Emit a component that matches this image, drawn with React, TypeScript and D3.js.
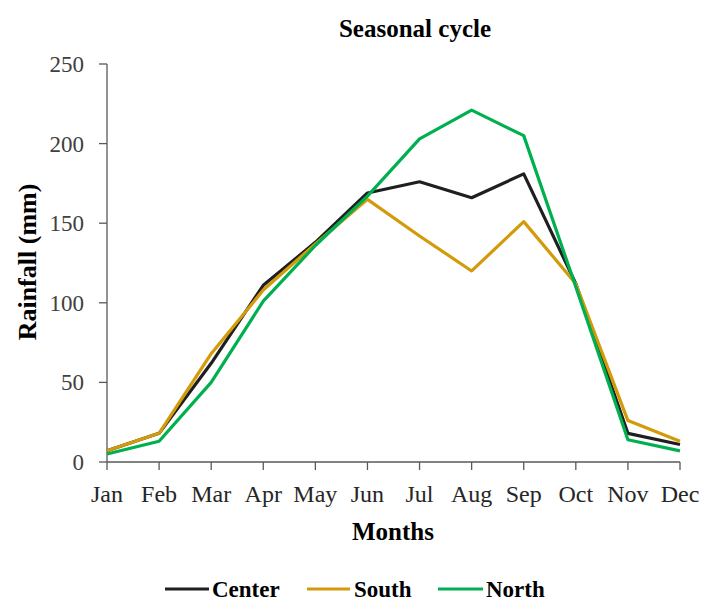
import * as d3 from "d3";

const months = ["Jan", "Feb", "Mar", "Apr", "May", "Jun", "Jul", "Aug", "Sep", "Oct", "Nov", "Dec"];
const center = [7, 18, 62, 111, 138, 169, 176, 166, 181, 112, 18, 11];
const south = [7, 18, 68, 108, 137, 165, 142, 120, 151, 112, 26, 13];
const north = [5, 13, 50, 101, 136, 167, 203, 221, 205, 110, 14, 7];
const yTicks = [0, 50, 100, 150, 200, 250];

const series = [
  { name: "Center", values: center, color: "#1f1f1f" },
  { name: "South", values: south, color: "#D39B0A" },
  { name: "North", values: north, color: "#00B050" },
];

export default function App() {
  const W = 702;
  const H = 601;
  const left = 107;
  const right = 680;
  const top = 64;
  const bottom = 462;
  const font = "'Liberation Serif', 'Times New Roman', serif";

  const x = d3.scalePoint<string>().domain(months).range([left, right]);
  const y = d3.scaleLinear().domain([0, 250]).range([bottom, top]);

  const line = d3
    .line<number>()
    .x((_, i) => x(months[i]) as number)
    .y((v) => y(v));

  const legendItems = [
    { x1: 165, x2: 209, tx: 212 },
    { x1: 307, x2: 350, tx: 354 },
    { x1: 438, x2: 483, tx: 486 },
  ];

  return (
    <svg width={W} height={H} style={{ position: "absolute", left: 0, top: 0 }} fontFamily={font}>
      <rect width={W} height={H} fill="#fff" />
      <text x={415} y={37} textAnchor="middle" fontWeight="bold" fontSize={25} fill="#000">
        Seasonal cycle
      </text>

      {/* y axis */}
      <line x1={left} x2={left} y1={top} y2={bottom} stroke="#595959" strokeWidth={1.3} />
      {yTicks.map((t) => (
        <g key={t}>
          <line x1={left - 8} x2={left} y1={y(t)} y2={y(t)} stroke="#595959" strokeWidth={1.3} />
          <text x={left - 23} y={y(t)} dy="0.35em" textAnchor="end" fontSize={23} fill="#404040">
            {t}
          </text>
        </g>
      ))}
      <text
        transform={`translate(27, ${262}) rotate(-90)`}
        textAnchor="middle"
        dy="0.35em"
        fontWeight="bold"
        fontSize={26}
        fill="#000"
      >
        Rainfall (mm)
      </text>

      {/* x axis */}
      <line x1={left} x2={right} y1={bottom} y2={bottom} stroke="#595959" strokeWidth={1.3} />
      {months.map((m) => (
        <g key={m}>
          <line x1={x(m)} x2={x(m)} y1={bottom} y2={bottom + 8} stroke="#595959" strokeWidth={1.3} />
          <text x={x(m)} y={502} textAnchor="middle" fontSize={24} fill="#262626">
            {m}
          </text>
        </g>
      ))}
      <text x={393} y={540} textAnchor="middle" fontWeight="bold" fontSize={25} fill="#000">
        Months
      </text>

      {/* series */}
      {series.map((s) => (
        <path
          key={s.name}
          d={line(s.values) as string}
          fill="none"
          stroke={s.color}
          strokeWidth={3.2}
          strokeLinejoin="round"
        />
      ))}

      {/* legend */}
      {series.map((s, i) => (
        <g key={s.name}>
          <line
            x1={legendItems[i].x1}
            x2={legendItems[i].x2}
            y1={589}
            y2={589}
            stroke={s.color}
            strokeWidth={3.2}
          />
          <text x={legendItems[i].tx} y={589} dy="0.33em" fontWeight="bold" fontSize={23} fill="#000">
            {s.name}
          </text>
        </g>
      ))}
    </svg>
  );
}
